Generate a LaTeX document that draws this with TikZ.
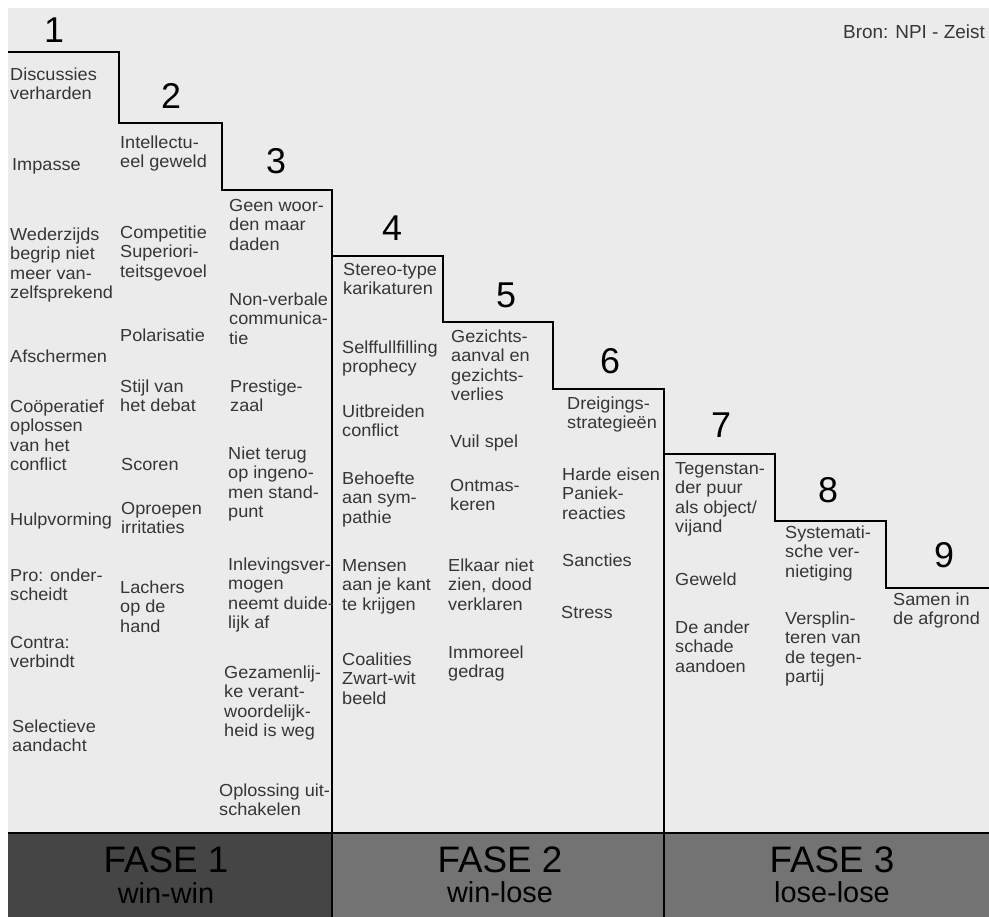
\documentclass[tikz,border=0pt]{standalone}
\usepackage{fontspec}
\setmainfont{Liberation Sans}
\newfontfamily\bodyfont[FakeStretch=1.04]{Liberation Sans}
\definecolor{bgc}{HTML}{EBEBEB}
\definecolor{txtc}{HTML}{363636}
\definecolor{fasea}{HTML}{454545}
\definecolor{faseb}{HTML}{737373}
\newcommand{\blk}[1]{\parbox[t]{130bp}{\raggedright\bodyfont\fontsize{17.5}{19.7}\selectfont #1}}
\begin{document}
\begin{tikzpicture}[x=1bp,y=-1bp,
  tb/.style={anchor=base west,inner sep=0pt,text=txtc},
  num/.style={anchor=base,inner sep=0pt,font=\fontsize{36}{36}\selectfont},
  fase/.style={anchor=base,inner sep=0pt,font=\fontsize{37}{37}\selectfont},
  sub/.style={anchor=base,inner sep=0pt,font=\fontsize{29}{29}\selectfont},
  stair/.style={line width=2.6bp,black}]
\useasboundingbox (0,0) rectangle (989,917);
\fill[white] (0,0) rectangle (989,917);
\fill[bgc] (8,8) rectangle (989,917);
\fill[fasea] (8,833) rectangle (332,917);
\fill[faseb] (332,833) rectangle (989,917);
% staircase
\draw[stair] (8,52) -- (119,52) -- (119,123) -- (222,123) -- (222,190) -- (332,190) -- (332,917);
\draw[stair] (332,256) -- (443,256) -- (443,322) -- (553,322) -- (553,389) -- (664,389) -- (664,917);
\draw[stair] (664,454) -- (775,454) -- (775,521) -- (886,521) -- (886,588) -- (989,588);
\draw[stair] (8,833) -- (989,833);
% numbers
\node[num] (n1) at (54,42) {1};
\node[num] (n2) at (171,108) {2};
\node[num] (n3) at (276,173) {3};
\node[num] (n4) at (392,240) {4};
\node[num] (n5) at (506,307) {5};
\node[num] (n6) at (610,373) {6};
\node[num] (n7) at (721,437) {7};
\node[num] (n8) at (828,502) {8};
\node[num] (n9) at (944,567) {9};
\node[anchor=base east,inner sep=0pt,text=txtc,font=\fontsize{19}{19}\selectfont] (bron) at (985,38) {Bron: NPI - Zeist};
% column 1
\node[tb] (a1) at (10,80) {\blk{Discussies\\verharden}};
\node[tb] (a2) at (12,170) {\blk{Impasse}};
\node[tb] (a3) at (10,240) {\blk{Wederzijds\\begrip niet\\meer van-\\zelfsprekend}};
\node[tb] (a4) at (10,362) {\blk{Afschermen}};
\node[tb] (a5) at (10,412) {\blk{Coöperatief\\oplossen\\van het\\conflict}};
\node[tb] (a6) at (10,525) {\blk{Hulpvorming}};
\node[tb] (a7) at (10,581) {\blk{Pro: onder-\\scheidt}};
\node[tb] (a8) at (10,648) {\blk{Contra:\\verbindt}};
\node[tb] (a9) at (12,732) {\blk{Selectieve\\aandacht}};
% column 2
\node[tb] (b1) at (120,148) {\blk{Intellectu-\\eel geweld}};
\node[tb] (b2) at (120,238) {\blk{Competitie\\Superiori-\\teitsgevoel}};
\node[tb] (b3) at (120,341) {\blk{Polarisatie}};
\node[tb] (b4) at (120,392) {\blk{Stijl van\\het debat}};
\node[tb] (b5) at (121,470) {\blk{Scoren}};
\node[tb] (b6) at (121,514) {\blk{Oproepen\\irritaties}};
\node[tb] (b7) at (120,593) {\blk{Lachers\\op de\\hand}};
% column 3
\node[tb] (c1) at (229,211) {\blk{Geen woor-\\den maar\\daden}};
\node[tb] (c2) at (229,305) {\blk{Non-verbale\\communica-\\tie}};
\node[tb] (c3) at (230,392) {\blk{Prestige-\\zaal}};
\node[tb] (c4) at (228,459) {\blk{Niet terug\\op ingeno-\\men stand-\\punt}};
\node[tb] (c5) at (228,570) {\blk{Inlevingsver-\\mogen\\neemt duide-\\lijk af}};
\node[tb] (c6) at (224,678) {\blk{Gezamenlij-\\ke verant-\\woordelijk-\\heid is weg}};
\node[tb] (c7) at (219,796) {\blk{Oplossing uit-\\schakelen}};
% column 4
\node[tb] (d1) at (343,275) {\blk{Stereo-type\\karikaturen}};
\node[tb] (d2) at (342,353) {\blk{Selffullfilling\\prophecy}};
\node[tb] (d3) at (342,417) {\blk{Uitbreiden\\conflict}};
\node[tb] (d4) at (342,484) {\blk{Behoefte\\aan sym-\\pathie}};
\node[tb] (d5) at (342,571) {\blk{Mensen\\aan je kant\\te krijgen}};
\node[tb] (d6) at (342,665) {\blk{Coalities\\Zwart-wit\\beeld}};
% column 5
\node[tb] (e1) at (451,342) {\blk{Gezichts-\\aanval en\\gezichts-\\verlies}};
\node[tb] (e2) at (450,447) {\blk{Vuil spel}};
\node[tb] (e3) at (450,491) {\blk{Ontmas-\\keren}};
\node[tb] (e4) at (448,571) {\blk{Elkaar niet\\zien, dood\\verklaren}};
\node[tb] (e5) at (448,658) {\blk{Immoreel\\gedrag}};
% column 6
\node[tb] (f1) at (567,409) {\blk{Dreigings-\\strategieën}};
\node[tb] (f2) at (562,480) {\blk{Harde eisen\\Paniek-\\reacties}};
\node[tb] (f3) at (562,566) {\blk{Sancties}};
\node[tb] (f4) at (561,618) {\blk{Stress}};
% column 7
\node[tb] (g1) at (675,474) {\blk{Tegenstan-\\der puur\\als object/\\vijand}};
\node[tb] (g2) at (675,585) {\blk{Geweld}};
\node[tb] (g3) at (675,633) {\blk{De ander\\schade\\aandoen}};
% column 8
\node[tb] (h1) at (785,538) {\blk{Systemati-\\sche ver-\\nietiging}};
\node[tb] (h2) at (785,624) {\blk{Versplin-\\teren van\\de tegen-\\partij}};
% column 9
\node[tb] (i1) at (893,605) {\blk{Samen in\\de afgrond}};
% phases
\node[fase] (p1) at (166,872) {FASE 1};
\node[sub] (s1) at (166,903) {win-win};
\node[fase] (p2) at (500,872) {FASE 2};
\node[sub] (s2) at (500,902) {win-lose};
\node[fase] (p3) at (832,872) {FASE 3};
\node[sub] (s3) at (832,902) {lose-lose};
\end{tikzpicture}
\end{document}
